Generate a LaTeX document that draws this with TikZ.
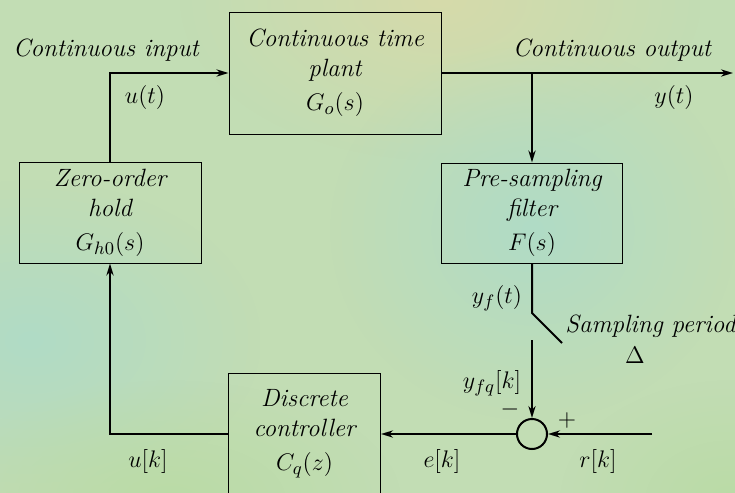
\documentclass[tikz,border=0pt]{standalone}
\usetikzlibrary{arrows.meta,fadings}

\definecolor{bgbase}{RGB}{194,221,180}
\definecolor{bgsand}{RGB}{214,218,170}
\definecolor{bgteal}{RGB}{176,219,198}
\definecolor{bggreen}{RGB}{186,219,166}
\tikzfading[name=softblob, inner color=transparent!0, outer color=transparent!100]

\begin{document}
\begin{tikzpicture}[x=0.5pt,y=-0.5pt,>={Stealth[length=6pt,width=3.6pt]},
  every node/.style={font=\fontsize{12.5}{15}\selectfont\itshape},
  blk/.style={draw,line width=0.5pt,align=center,inner sep=0pt},
  sig/.style={line width=1pt},
  lbl/.style={inner sep=1pt}]
  % background
  \useasboundingbox (0,0) rectangle (735,493);
  \fill[bgbase] (0,0) rectangle (735,493);
  \fill[bgsand,path fading=softblob] (180,-160) rectangle (700,160);
  \fill[bgteal,path fading=softblob] (-200,180) rectangle (260,500);
  \fill[bgteal,path fading=softblob] (330,40) rectangle (735,420);
  \fill[bggreen,path fading=softblob] (-60,380) rectangle (400,620);
  \fill[bggreen,path fading=softblob] (560,380) rectangle (900,620);

  % blocks
  \node[blk,minimum width=106pt,minimum height=61pt] (plant) at (335,73)
    {Continuous time\\plant\\[2pt]$G_o(s)$};
  \node[blk,minimum width=91pt,minimum height=50.5pt] (zoh) at (110,212.5)
    {Zero-order\\hold\\[2pt]$G_{h0}(s)$};
  \node[blk,minimum width=90.5pt,minimum height=50pt] (filt) at (532,213)
    {Pre-sampling\\filter\\[2pt]$F(s)$};
  \node[blk,minimum width=76pt,minimum height=61pt] (ctrl) at (304.5,434)
    {Discrete\\controller\\[2pt]$C_q(z)$};
  \node[draw,circle,line width=1pt,minimum size=15pt,inner sep=0pt] (sum) at (532,434) {};

  % corners and free ends
  \coordinate (br) at (532,73);
  \coordinate (yout) at (733,73);
  \coordinate (ucorner) at (zoh.north |- plant.west);
  \coordinate (kcorner) at (zoh.south |- ctrl.west);
  \coordinate (swa) at (532,313);
  \coordinate (swb) at (562,343);
  \coordinate (swc) at (532,340);
  \coordinate (rin) at (652,434);

  % signals
  \draw[sig,->] (plant.east) -- (yout);
  \draw[sig,->] (br) -- (filt.north);
  \draw[sig] (filt.south) -- (swa) -- (swb);
  \draw[sig,->] (swc) -- (sum.north);
  \draw[sig,->] (rin) -- (sum.east);
  \draw[sig,->] (sum.west) -- (ctrl.east);
  \draw[sig,->] (ctrl.west) -- (kcorner) -- (zoh.south);
  \draw[sig,->] (zoh.north) -- (ucorner) -- (plant.west);

  % labels
  \node[lbl] (cin) at (106,50) {Continuous input};
  \node[lbl] (ut) at (145,97) {$u(t)$};
  \node[lbl] (cout) at (612,50) {Continuous output};
  \node[lbl] (yt) at (674,97) {$y(t)$};
  \node[lbl] (yft) at (497,298) {$y_f(t)$};
  \node[lbl,anchor=west] (per) at (563,326) {Sampling period};
  \node[lbl] (dlt) at (635,355) {$\Delta$};
  \node[lbl] (yfq) at (492,383) {$y_{fq}[k]$};
  \node[lbl] (minus) at (510,409) {$-$};
  \node[lbl] (plus) at (567,420) {$+$};
  \node[lbl] (rk) at (598,461) {$r[k]$};
  \node[lbl] (ek) at (442,461) {$e[k]$};
  \node[lbl] (uk) at (148,461) {$u[k]$};
\end{tikzpicture}
\end{document}
